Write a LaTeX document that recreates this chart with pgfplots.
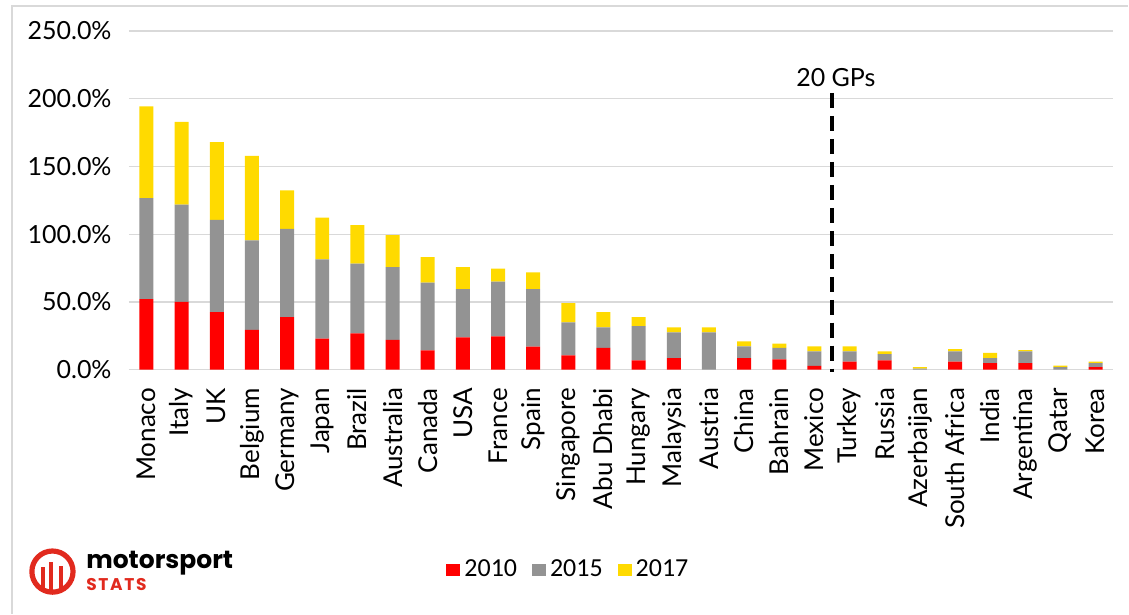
\documentclass[border=0pt]{standalone}
\usepackage{fontspec}
\setmainfont{Lato}
\newfontfamily\legendfont{Carlito}
\newfontfamily\logofont{Poppins}
\usepackage{pgfplots}
\usepackage{pgfplotstable}
\pgfplotsset{compat=1.18}

\definecolor{cA}{HTML}{FF0000}
\definecolor{cB}{HTML}{939393}
\definecolor{cC}{HTML}{FFDA00}
\definecolor{gridgray}{HTML}{D9D9D9}
\definecolor{logored}{HTML}{E12A1E}

% share by year, stacked
\pgfplotstableread{
idx y2010 y2015 y2017
0  52.1 74.5 67.8
1  50.1 71.8 61.0
2  42.5 68.1 57.3
3  29.5 65.9 62.4
4  38.8 65.2 28.3
5  22.9 58.5 30.9
6  26.8 51.6 28.3
7  22.1 53.6 23.6
8  14.3 49.9 18.9
9  23.8 35.7 16.2
10 24.6 40.5 9.6
11 17.0 42.5 12.3
12 10.6 24.3 14.3
13 16.2 15.0 11.3
14 6.9  25.3 6.6
15 8.6  18.9 3.7
16 0.0  27.5 3.7
17 8.6  8.6  3.7
18 7.6  8.6  3.0
19 2.9  10.6 3.7
20 5.9  7.6  3.7
21 6.9  4.7  1.9
22 0.0  0.8  1.2
23 5.9  7.6  1.7
24 4.9  3.7  3.9
25 4.9  8.6  1.0
26 0.0  2.0  1.0
27 2.0  2.9  1.0
}\gpdata

\begin{document}
\begin{tikzpicture}[x=1pt,y=1pt]
\begin{axis}[
  scale only axis, width=492.5pt, height=169.5pt,
  ybar stacked, bar width=7pt,
  xmin=-0.5, xmax=27.5, ymin=0, ymax=250,
  xtick={0,...,27},
  xticklabels={Monaco,Italy,UK,Belgium,Germany,Japan,Brazil,Australia,Canada,USA,France,Spain,Singapore,Abu Dhabi,Hungary,Malaysia,Austria,China,Bahrain,Mexico,Turkey,Russia,Azerbaijan,South Africa,India,Argentina,Qatar,Korea},
  xticklabel style={rotate=90, anchor=east, inner sep=0pt, font=\fontsize{13}{13}\selectfont},
  xticklabel shift=9pt,
  ytick={0,50,100,150,200,250},
  yticklabels={0.0\%,50.0\%,100.0\%,150.0\%,200.0\%,250.0\%},
  yticklabel style={inner sep=0pt, font=\fontsize{12.5}{12.5}\selectfont},
  yticklabel shift=8.5pt,
  major tick length=0pt,
  axis line style={draw=none},
  ymajorgrids, grid style={gridgray, line width=0.7pt},
  clip=false,
  legend columns=3,
  legend style={at={(0.446,-0.59)}, anchor=center, draw=none, fill=none,
    font=\legendfont\fontsize{13}{13}\selectfont,
    /tikz/every odd column/.append style={column sep=1.5pt},
    /tikz/every even column/.append style={column sep=7pt},
    nodes={inner sep=0.5pt}},
]
\addplot[fill=cA, draw=none, legend image code/.code={\fill[cA] (0pt,-3pt) rectangle (7pt,3pt);}] table[x=idx,y=y2010] {\gpdata};
\addplot[fill=cB, draw=none, legend image code/.code={\fill[cB] (0pt,-3pt) rectangle (7pt,3pt);}] table[x=idx,y=y2015] {\gpdata};
\addplot[fill=cC, draw=none, legend image code/.code={\fill[cC] (0pt,-3pt) rectangle (7pt,3pt);}] table[x=idx,y=y2017] {\gpdata};
\legend{2010,2015,2017}

\draw[black, line width=1.8pt, dash pattern=on 7.5pt off 4pt] (axis cs:19.5,204.3) -- (axis cs:19.5,-1.5);
\node[font=\fontsize{12.5}{12.5}\selectfont] at (axis cs:19.61,215.3) {20 GPs};
\coordinate (O) at (rel axis cs:0,0);
\end{axis}

\begin{scope}[shift={(O)}, xshift=-64.5pt, yshift=-122pt]
  \path (0,0) rectangle (564.5,307);
  \draw[gridgray, line width=0.8pt] (5.9,0) -- (5.9,304) -- (564.5,304);
  % logo
  \begin{scope}
    \clip (26.25,21) circle (10.5pt);
    \fill[logored] (20.5,0) rectangle (22.3,23.5);
    \fill[logored] (24.5,0) rectangle (26.3,26);
    \fill[logored] (29.3,0) rectangle (31.3,24);
  \end{scope}
  \draw[logored, line width=2.6pt] (26.25,21) circle (10.3pt);
  \node[anchor=base west, inner sep=0pt, font=\logofont\bfseries\fontsize{12.5}{12.5}\selectfont] at (43,22.5) {motorsport};
  \node[anchor=base west, inner sep=0pt, text=logored, font=\logofont\bfseries\fontsize{8.5}{8.5}\selectfont\addfontfeature{LetterSpace=10}] at (43,11.5) {STATS};
\end{scope}
\end{tikzpicture}
\end{document}
